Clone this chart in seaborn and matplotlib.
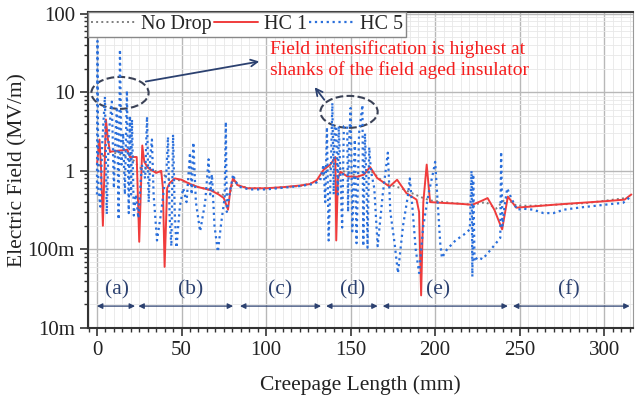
import numpy as np
import pandas as pd
import matplotlib
matplotlib.use("Agg")
import matplotlib.pyplot as plt
import seaborn as sns
from matplotlib.patches import Ellipse
from matplotlib.ticker import FixedLocator, MultipleLocator, LogLocator, NullFormatter

# data
hc1_x = [0, 1.5, 2.5, 3.5, 5.3, 6.5, 7.7, 12, 18, 19.5, 23.5, 25.0, 26.8, 28.0, 30.0, 35.0,
         38.0, 39.0, 40.0, 41.5, 43.0, 46.0, 50.0, 55.0, 60.0, 67.0, 72.0, 75.0, 77.5, 79.0,
         80.5, 83.0, 89.0, 100, 110, 120, 126, 130, 134, 138, 141, 141.5, 142.5, 144, 148,
         154, 158, 161.5, 165.7, 170, 173, 177.5, 183, 189, 190.5, 191.7, 193.0, 195, 197,
         205, 215, 222, 228, 231, 235, 239.6, 243, 248, 256, 270, 285, 300, 312, 316]
hc1_y = [1.2, 2.5, 1.0, 0.2, 4.5, 2.5, 1.75, 1.8, 1.85, 1.5, 1.5, 0.125, 2.1, 1.3, 1.1, 0.94,
         1.0, 0.6, 0.06, 0.6, 0.7, 0.8, 0.77, 0.68, 0.62, 0.57, 0.5, 0.45, 0.32, 0.6,
         0.81, 0.66, 0.6, 0.6, 0.62, 0.65, 0.68, 0.76, 1.03, 1.2, 1.5, 0.13, 0.8, 0.97, 0.85,
         0.84, 0.9, 1.12, 0.81, 0.7, 0.63, 0.77, 0.52, 0.43, 0.3, 0.026, 0.4, 1.2, 0.40,
         0.39, 0.38, 0.37, 0.42, 0.45, 0.32, 0.18, 0.47, 0.34, 0.35, 0.37, 0.39, 0.41, 0.43, 0.5]

hc5_x = [0.0, 0.3, 0.8, 2.0, 3.0, 4.7, 5.8, 7.0, 8.8, 10.0, 11.0, 11.8, 12.8, 13.6, 14.5,
         15.5, 16.5, 17.7, 18.8, 19.5, 20.2, 20.7, 21.8, 23.0, 24.5, 26.5, 28.5, 29.6, 30.6,
         31.5, 32.5, 33.5, 35.5, 38.0, 40.0, 41.0, 42.0, 43.0, 44.0, 45.0, 46.0, 47.0, 49.0,
         51.0, 53.0, 55.0, 56.0, 57.0, 58.5, 61.0, 64.0, 66.0, 67.0, 68.0, 69.5, 71.5, 73.5,
         75.5, 76.2, 76.8, 78.0, 80.5, 82, 85, 90, 100, 110, 120, 128, 132, 134, 135, 136,
         137, 138.5, 139.2, 140, 140.5, 141.5, 142.5, 143.0, 145.0, 146, 148, 148.5, 149.0,
         150.0, 151.0, 152.5, 153.5, 155.0, 157.0, 157.5, 158.5, 159.5, 160.0, 161.0, 162.0,
         164.0, 166.0, 169.0, 172.0, 173.5, 176, 178.0, 181.0, 184.0, 185.0, 186.5, 188.5,
         190.5, 193, 196, 199, 200.0, 201.5, 203, 204.0, 207, 212, 218, 220.5, 221.5, 222.0,
         222.5, 223.3, 225, 228, 233, 238.5, 239, 239.8, 241, 242.6, 245, 248.5, 252, 258,
         264, 270, 276, 285, 295, 305, 311, 313, 316]
hc5_y = [0.5, 45, 0.6, 0.35, 2.0, 8.8, 0.28, 3.0, 7.6, 0.6, 3.0, 6.5, 0.24, 35, 1.2,
         3.0, 0.5, 10.5, 0.29, 5.0, 0.5, 4.5, 0.27, 0.5, 0.25, 1.2, 0.8, 4.9, 0.4,
         1.5, 2.5, 0.5, 0.13, 0.3, 0.7, 0.9, 2.7, 0.25, 0.11, 2.9, 0.3, 0.105, 0.35,
         0.6, 0.4, 1.7, 0.5, 2.3, 0.4, 0.17, 0.4, 1.4, 0.5, 0.9, 0.2, 0.093, 0.22,
         0.45, 4.2, 0.3, 0.45, 0.9, 0.72, 0.62, 0.58, 0.58, 0.61, 0.64, 0.68, 0.75, 1.2, 0.4, 3.6,
         0.13, 1.5, 7.3, 0.5, 3.7, 3.6, 0.5, 3.7, 0.19, 3.7, 3.7, 0.3, 2.0,
         6.3, 0.17, 2.5, 0.12, 3.0, 6.9, 0.11, 3.0, 0.6, 0.105, 2.0, 1.0,
         0.6, 0.11, 0.5, 1.7, 0.3, 0.12, 0.05, 0.2, 0.5, 0.8, 0.35, 0.1,
         0.05, 0.2, 0.5, 1.0, 1.3, 0.4, 0.12, 0.078, 0.1, 0.13, 0.16, 0.18, 1.0, 0.045,
         0.9, 0.07, 0.08, 0.075, 0.1, 0.14, 1.75, 0.2, 0.35, 0.6, 0.45, 0.32, 0.33, 0.32,
         0.29, 0.29, 0.32, 0.34, 0.36, 0.38, 0.39, 0.42, 0.48]

nodrop_x = [0, 5, 10, 20, 25, 30, 38, 42, 50, 60, 70, 76, 79, 81, 84, 90, 100, 120, 130, 136,
            141, 145, 155, 162, 170, 180, 188, 193, 197, 210, 222, 230, 236, 242, 248, 260, 290, 316]
nodrop_y = [1.0, 1.8, 1.7, 1.5, 1.1, 1.05, 0.95, 0.8, 0.75, 0.62, 0.55, 0.48, 0.55, 0.78, 0.65,
            0.6, 0.6, 0.64, 0.72, 1.0, 1.3, 1.0, 0.85, 1.0, 0.7, 0.6, 0.5, 0.45, 0.42, 0.39,
            0.37, 0.4, 0.33, 0.45, 0.36, 0.36, 0.39, 0.46]

regions = ["(a)", "(b)", "(c)", "(d)", "(e)", "(f)"]
region_start = [0, 24.5, 84.6, 135.5, 169, 246]
region_end = [22.5, 80.5, 132.5, 166, 243, 315]
region_label_x = [11.7, 55.6, 108, 151, 202, 279]

ytick_vals = [0.01, 0.1, 1, 10, 100]
ytick_text = ["10m", "100m", "1", "10", "100"]

sns.set_theme(style="white")
plt.rcParams["font.family"] = ["Liberation Serif", "DejaVu Serif"]

fig = plt.figure(figsize=(6.36, 3.97), dpi=100)
ax = fig.add_axes([88 / 636, 69 / 397, 545 / 636, 316 / 397])

df_nd = pd.DataFrame({"x": nodrop_x, "y": nodrop_y})
df_1 = pd.DataFrame({"x": hc1_x, "y": hc1_y})
df_5 = pd.DataFrame({"x": hc5_x, "y": hc5_y})

sns.lineplot(data=df_nd, x="x", y="y", ax=ax, color="#7f7f7f", linestyle=":", lw=1.4,
             sort=False, estimator=None, label="No Drop")
sns.lineplot(data=df_1, x="x", y="y", ax=ax, color="#f03c3c", lw=1.4,
             sort=False, estimator=None, label="HC 1")
sns.lineplot(data=df_5, x="x", y="y", ax=ax, color="#2a6fdb", linestyle=":", lw=1.6,
             sort=False, estimator=None, label="HC 5")

ax.set_yscale("log")
ax.set_xlim(-5.3, 317)
ax.set_ylim(0.01, 105)

ax.xaxis.set_major_locator(MultipleLocator(50))
ax.xaxis.set_minor_locator(MultipleLocator(5))
ax.yaxis.set_major_locator(FixedLocator(ytick_vals))
ax.set_yticklabels(ytick_text)
ax.yaxis.set_minor_locator(LogLocator(base=10, subs=np.arange(2, 10)))
ax.yaxis.set_minor_formatter(NullFormatter())

ax.grid(True, which="major", color="#b8b8b8", lw=1.0)
ax.grid(True, which="minor", color="#e8e8e8", lw=0.6)
ax.set_axisbelow(True)

ax.tick_params(which="major", direction="out", length=6, width=1.2, color="#333333",
               labelsize=15, labelcolor="#222222", left=True, bottom=True)
ax.tick_params(which="minor", direction="out", length=3, width=1.0, color="#333333",
               left=True, bottom=True)
for side in ["left", "bottom", "top"]:
    ax.spines[side].set_color("#333333")
    ax.spines[side].set_linewidth(1.5)
ax.spines["right"].set_color("#999999")
ax.spines["right"].set_linewidth(0.8)

ax.set_xlabel("Creepage Length (mm)", fontsize=15.5, color="#222222", labelpad=11)
ax.set_ylabel("Electric Field (MV/m)", fontsize=15.5, color="#222222", labelpad=0)

leg = ax.legend(loc="upper left", bbox_to_anchor=(0, 1), borderaxespad=0, ncol=3,
                fontsize=14.5, frameon=True, fancybox=False, edgecolor="#888888",
                framealpha=1, handlelength=2.2, handletextpad=0.3, columnspacing=0.1,
                borderpad=0.15)
leg.get_frame().set_linewidth(1.0)

# annotation
navy = "#2c4170"
fig.text(270 / 636, 1 - 40 / 397, "Field intensification is highest at\nshanks of the field aged insulator",
         color="#f51e1e", fontsize=14, va="top", ha="left", linespacing=1.2)
for cx, cy in [(0.0587, 0.744), (0.479, 0.684)]:
    ax.add_patch(Ellipse((cx, cy), 0.105, 0.101, transform=ax.transAxes, fill=False,
                         ls="--", lw=1.5, ec="#3b4256"))
ax.annotate("", xy=((262 - 88) / 545, (328 - 61) / 316), xycoords="axes fraction",
            xytext=((143 - 88) / 545, (328 - 82) / 316), textcoords="axes fraction",
            arrowprops=dict(arrowstyle="->", color=navy, lw=1.3, mutation_scale=12))
ax.annotate("", xy=((313 - 88) / 545, (328 - 85) / 316), xycoords="axes fraction",
            xytext=((326 - 88) / 545, (328 - 102) / 316), textcoords="axes fraction",
            arrowprops=dict(arrowstyle="->", color=navy, lw=1.3, mutation_scale=12))

for lab, x0, x1, xl in zip(regions, region_start, region_end, region_label_x):
    ax.annotate("", xy=(x1, 0.019), xytext=(x0, 0.019),
                arrowprops=dict(arrowstyle="<|-|>", color=navy, lw=0.9, mutation_scale=8,
                                shrinkA=0, shrinkB=0))
    ax.text(xl, 0.031, lab, color=navy, fontsize=15.5, ha="center", va="center")

fig.savefig("out.png", dpi=100)
